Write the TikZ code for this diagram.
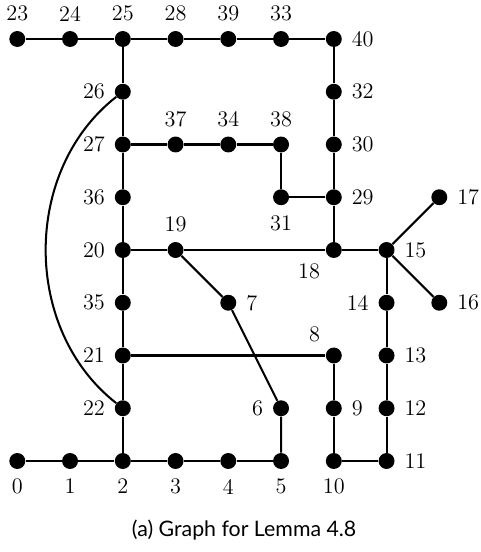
\documentclass[tikz,border=0pt]{standalone}
\usepackage{fontspec}
\newfontfamily\capfont{Lato}
\usetikzlibrary{positioning}

\begin{document}
\begin{tikzpicture}[
    vtx/.style={circle, fill=black, inner sep=0pt, minimum size=8.6pt},
    edge/.style={line width=1.1pt},
    every label/.style={font=\large, inner sep=2pt},
    label distance=3pt
  ]
  \useasboundingbox (-0.328,-1.725) rectangle (8.79,8.739);
  % top row
  \node[vtx, label=above:23] (v23) at (0,8) {};
  \node[vtx, label=above:24] (v24) at (1,8) {};
  \node[vtx, label=above:25] (v25) at (2,8) {};
  \node[vtx, label=above:28] (v28) at (3,8) {};
  \node[vtx, label=above:39] (v39) at (4,8) {};
  \node[vtx, label=above:33] (v33) at (5,8) {};
  \node[vtx, label=right:40] (v40) at (6,8) {};
  % left spine
  \node[vtx, label=left:26] (v26) at (2,7) {};
  \node[vtx, label=left:27] (v27) at (2,6) {};
  \node[vtx, label=left:36] (v36) at (2,5) {};
  \node[vtx, label=left:20] (v20) at (2,4) {};
  \node[vtx, label=left:35] (v35) at (2,3) {};
  \node[vtx, label=left:21] (v21) at (2,2) {};
  \node[vtx, label=left:22] (v22) at (2,1) {};
  % inner part
  \node[vtx, label=above:37] (v37) at (3,6) {};
  \node[vtx, label=above:34] (v34) at (4,6) {};
  \node[vtx, label=above:38] (v38) at (5,6) {};
  \node[vtx, label=below:31] (v31) at (5,5) {};
  \node[vtx, label=right:32] (v32) at (6,7) {};
  \node[vtx, label=right:30] (v30) at (6,6) {};
  \node[vtx, label=right:29] (v29) at (6,5) {};
  \node[vtx, label=above:19] (v19) at (3,4) {};
  \node[vtx, label=right:7] (v7) at (4,3) {};
  \node[vtx, label=left:6] (v6) at (5,1) {};
  \node[vtx, label=below left:18] (v18) at (6,4) {};
  \node[vtx, label=above left:8] (v8) at (6,2) {};
  \node[vtx, label=right:9] (v9) at (6,1) {};
  % right column
  \node[vtx, label=right:15] (v15) at (7,4) {};
  \node[vtx, label=right:17] (v17) at (8,5) {};
  \node[vtx, label=right:16] (v16) at (8,3) {};
  \node[vtx, label=left:14] (v14) at (7,3) {};
  \node[vtx, label=right:13] (v13) at (7,2) {};
  \node[vtx, label=right:12] (v12) at (7,1) {};
  \node[vtx, label=right:11] (v11) at (7,0) {};
  % bottom row
  \node[vtx, label=below:0] (v0) at (0,0) {};
  \node[vtx, label=below:1] (v1) at (1,0) {};
  \node[vtx, label=below:2] (v2) at (2,0) {};
  \node[vtx, label=below:3] (v3) at (3,0) {};
  \node[vtx, label=below:4] (v4) at (4,0) {};
  \node[vtx, label=below:5] (v5) at (5,0) {};
  \node[vtx, label=below:10] (v10) at (6,0) {};

  \draw[edge] (v23) -- (v24) -- (v25) -- (v28) -- (v39) -- (v33) -- (v40)
    -- (v32) -- (v30) -- (v29) -- (v18);
  \draw[edge] (v25) -- (v26) -- (v27) -- (v36) -- (v20) -- (v35) -- (v21)
    -- (v22) -- (v2);
  \draw[edge] (v27) -- (v37) -- (v34) -- (v38) -- (v31) -- (v29);
  \draw[edge] (v20) -- (v19) -- (v18) -- (v15);
  \draw[edge] (v19) -- (v7) -- (v6) -- (v5);
  \draw[edge] (v21) -- (v8) -- (v9) -- (v10) -- (v11);
  \draw[edge] (v17) -- (v15) -- (v16);
  \draw[edge] (v15) -- (v14) -- (v13) -- (v12) -- (v11);
  \draw[edge] (v0) -- (v1) -- (v2) -- (v3) -- (v4) -- (v5);
  \draw[edge] (v26) to[bend right=52] (v22);

  \node[font=\capfont\fontsize{11.5}{14}\selectfont] (cap) at (4.3,-1.3)
    {(a) Graph for Lemma 4.8};
\end{tikzpicture}
\end{document}
